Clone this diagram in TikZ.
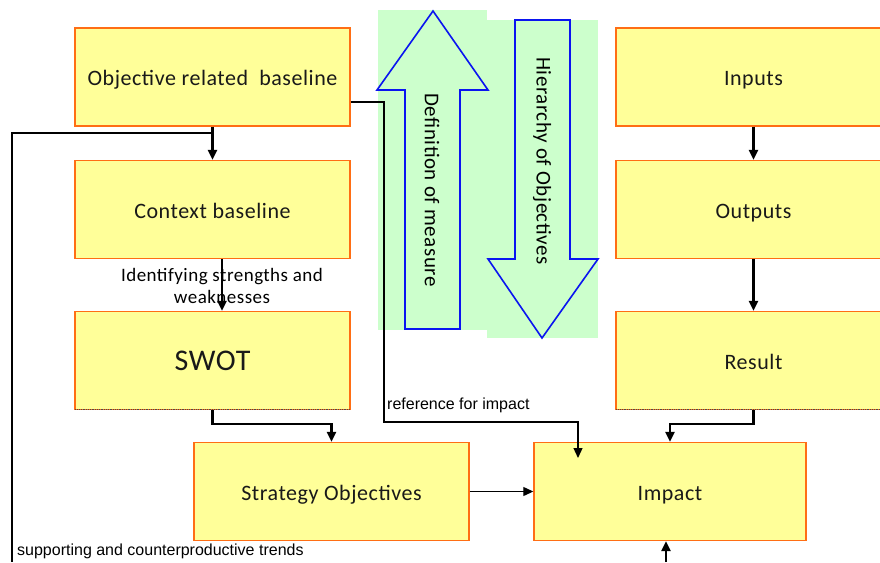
\documentclass[tikz,border=0pt]{standalone}
\usepackage{fontspec}
\setmainfont{Carlito}[LetterSpace=2.5]
\newfontfamily\labelfont{Liberation Sans}
\usetikzlibrary{arrows.meta}
\definecolor{boxfill}{RGB}{255,255,153}
\definecolor{boxline}{RGB}{255,110,20}
\definecolor{greenbg}{RGB}{204,255,204}
\definecolor{arrblue}{RGB}{10,20,240}
\tikzset{
  box/.style={draw=boxline, line width=1.4pt, fill=boxfill, rectangle, inner sep=0pt,
    minimum width=275pt, minimum height=98pt, font=\fontsize{22}{24}\selectfont, text=black!90,
    text height=21pt, text depth=4pt},
  arr/.style={line width=2.4pt, -{Triangle[length=10pt,width=9pt]}},
  thinarr/.style={line width=1.2pt, -{Triangle[length=10pt,width=9pt]}},
  thinline/.style={line width=1.5pt},
  shadowline/.style={line width=0.8pt, densely dotted, black!70},
  smalllabel/.style={font=\labelfont\fontsize{16}{18}\selectfont, inner sep=0pt},
  midlabel/.style={font=\fontsize{19}{22}\selectfont, align=center, inner sep=0pt},
  bigarrow/.style={draw=arrblue, line width=1.6pt, fill=greenbg},
  arrowtext/.style={font=\fontsize{21}{23}\selectfont, rotate=-90, inner sep=0pt}
}
\begin{document}
\begin{tikzpicture}[x=1pt,y=-1pt]
\useasboundingbox (0,0) rectangle (880,562);
% green backgrounds
\fill[greenbg] (378,10) rectangle (487,330);
\fill[greenbg] (487,20) rectangle (598,338);
% big arrows
\draw[bigarrow] (433,11) -- (488,90) -- (460,90) -- (460,329) -- (405,329) -- (405,90) -- (377,90) -- cycle;
\draw[bigarrow] (515,20) -- (570,20) -- (570,259) -- (598,259) -- (542,338) -- (488,259) -- (515,259) -- cycle;
\node[arrowtext] (defm) at (432,190) {Definition of measure};
\node[arrowtext] (hier) at (542,161) {Hierarchy of Objectives};
% boxes
\node[box] (orb) at (212.5,77) {Objective related\ \ baseline};
\node[box] (ctx) at (212.5,209.5) {Context baseline};
\node[box, font=\fontsize{30}{32}\selectfont, text height=19pt, text depth=0pt] (swot) at (212.5,360.5) {SWOT};
\node[box] (strat) at (331.5,491.5) {Strategy Objectives};
\node[box, minimum width=272pt] (imp) at (670,491.5) {Impact};
\node[box] (inp) at (753.5,77) {Inputs};
\node[box] (outp) at (753.5,209.5) {Outputs};
\node[box] (res) at (753.5,360.5) {Result};
\draw[shadowline] ([shift={(1pt,1.2pt)}]swot.south west) -- ([shift={(-1pt,1.2pt)}]swot.south east);
\draw[shadowline] ([shift={(1pt,1.2pt)}]res.south west) -- ([shift={(-1pt,1.2pt)}]res.south east);
% labels
\node[midlabel] (idlab) at (222,286) {Identifying strengths and\\weaknesses};
\node[smalllabel, anchor=west] (reflab) at (387,405) {reference for impact};
\node[smalllabel, anchor=west] (suplab) at (17,551) {supporting and counterproductive trends};
% coordinates
\coordinate (br) at (212.5,133);
\coordinate (leftbot) at (12,562);
\coordinate (r1) at (384,422);
\coordinate (rend) at (578,458);
\coordinate (bt) at (666,562);
% connectors
\draw[arr] (orb.south) -- (ctx.north);
\draw[thinline] (br) -| (leftbot);
\draw[arr] ([xshift=9.5pt]ctx.south) -- ([xshift=9.5pt]swot.north);
\draw[arr] (swot.south) -- ++(0,14) -| (strat.north);
\draw[arr] (res.south) -- ++(0,14) -| (imp.north);
\draw[thinarr] ([yshift=-25pt]orb.east) -| (r1) -| (rend);
\draw[thinarr] (strat.east) -- (imp.west);
\draw[arr] (bt) -- (bt |- imp.south);
\draw[arr] (inp.south) -- (outp.north);
\draw[arr] (outp.south) -- (res.north);
\end{tikzpicture}
\end{document}
